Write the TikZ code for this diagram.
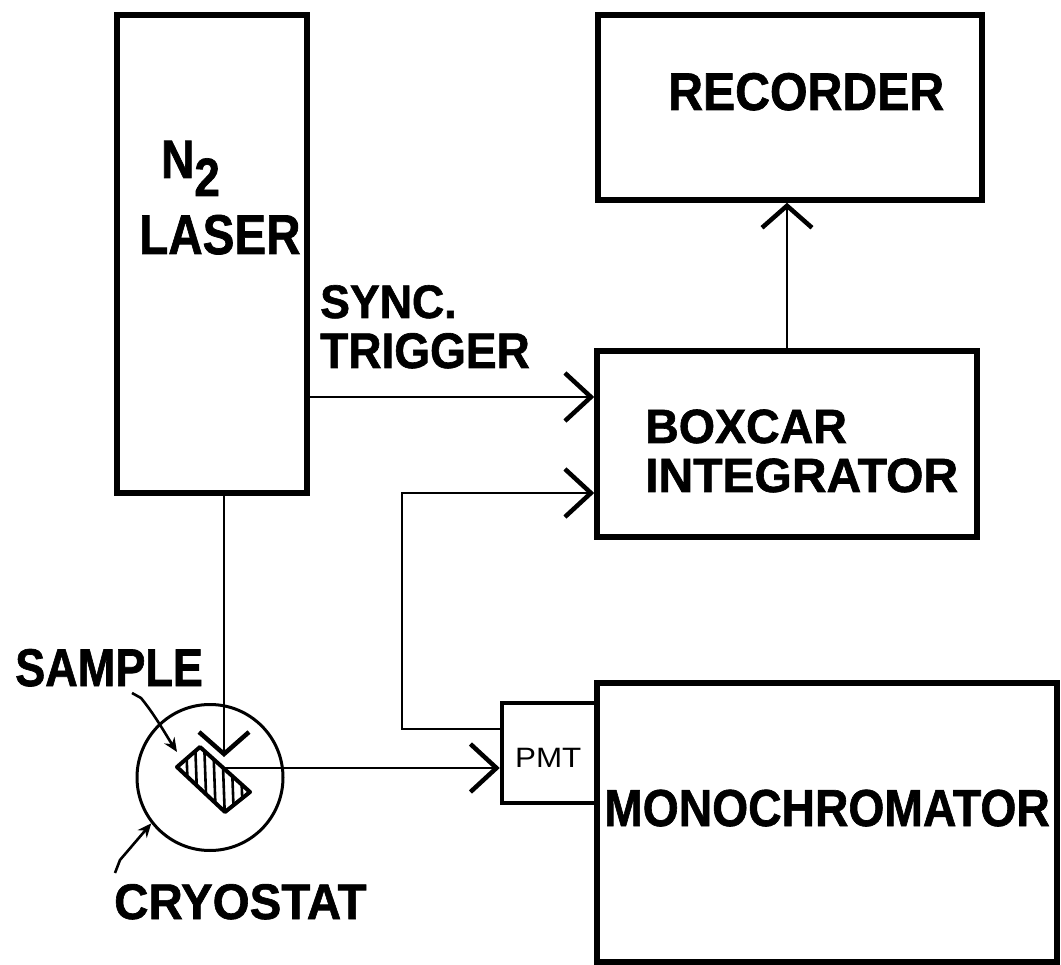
\documentclass[tikz,border=0pt]{standalone}
\usepackage{fontspec}
\setmainfont{Liberation Sans}
\newfontfamily\heavyfont{Liberation Sans}[BoldFeatures={FakeBold=1.3}]
\usetikzlibrary{arrows.meta,calc}
\newcommand{\mylbl}[3]{\scalebox{#1}[1]{\fontsize{#2}{#2}\selectfont\heavyfont\bfseries #3}}
\begin{document}
\begin{tikzpicture}[x=1pt,y=-1pt,
  box/.style={draw, line width=5.5pt, inner sep=0pt, rectangle},
  conn/.style={line width=2.2pt},
  arr/.style={conn, -{Straight Barb[length=26pt,width=48pt,line width=4.5pt]}},
  arrs/.style={conn, -{Straight Barb[length=22pt,width=50pt,line width=4.5pt]}},
  lead/.style={line width=2.6pt, -{Stealth[length=14pt,width=12pt]}},
  lbl/.style={inner sep=0pt, anchor=base west},
]
\useasboundingbox (0,0) rectangle (1061,965);
\fill[white] (0,0) rectangle (1061,965);

% boxes
\node[box, minimum width=190pt, minimum height=478pt] (laser) at (212,254) {};
\node[box, minimum width=384pt, minimum height=185pt] (recorder) at (790,107.5) {};
\node[box, minimum width=380pt, minimum height=186pt] (boxcar) at (787,444) {};
\node[box, minimum width=460pt, minimum height=279pt] (mono) at (827,822.5) {};
\node[box, line width=4.5pt, minimum width=95pt, minimum height=100pt] (pmt) at (549.5,753) {};
\node[draw, circle, line width=3pt, minimum size=146pt, inner sep=0pt] (cryo) at (210,777.5) {};

% texts
\node[lbl] (n2) at (161,178) {\mylbl{.85}{54}{N\raisebox{-18pt}{2}}};
\node[lbl] (lasertxt) at (139,254) {\mylbl{.85}{56}{LASER}};
\node[lbl] (synctxt) at (320,318) {\mylbl{.95}{47}{SYNC.}};
\node[lbl] (trigtxt) at (320,368) {\mylbl{.92}{50}{TRIGGER}};
\node[lbl] (rectxt) at (668,110) {\mylbl{.91}{53}{RECORDER}};
\node[lbl] (boxtxt) at (645,443) {\mylbl{.97}{48}{BOXCAR}};
\node[lbl] (inttxt) at (645,492) {\mylbl{1.0}{48}{INTEGRATOR}};
\node[lbl] (pmttxt) at (515,767) {\scalebox{1.12}[1]{\fontsize{28}{28}\selectfont PMT}};
\node[lbl] (monotxt) at (604,826) {\mylbl{.89}{52}{MONOCHROMATOR}};
\node[lbl] (samptxt) at (15,686) {\mylbl{.85}{53}{SAMPLE}};
\node[lbl] (cryotxt) at (114,919) {\mylbl{.95}{50}{CRYOSTAT}};

% sample
\coordinate (sL) at (177,767);
\coordinate (sT) at (200,747);
\coordinate (sR) at (250,792);
\coordinate (sB) at (225,812);
\begin{scope}
\clip (sL)--(sT)--(sR)--(sB)--cycle;
\fill[white] (170,740) rectangle (260,820);
\foreach \x in {186,195,...,246} \draw[line width=2.6pt] (\x,740) -- (\x+3,820);
\end{scope}
\draw[line width=4pt, line join=round] (sL)--(sT)--(sR)--(sB)--cycle;

% connectors
\coordinate (hit) at (224,768);
\coordinate (beamend) at (224,757);
\coordinate (sy) at (0,397);
\coordinate (fb) at (402,729);
\coordinate (b2) at (402,493);
\draw[arrs] (laser.south -| hit) -- (beamend);
\draw[arr] (hit) -- (pmt.west |- hit);
\draw[arr] (laser.east |- sy) -- (boxcar.west |- sy);
\draw[arr] (pmt.west |- fb) -- (fb) -- (b2) -- (boxcar.west |- b2);
\draw[arrs] (boxcar.north) -- (boxcar.north |- recorder.south);

% leaders
\coordinate (smpA) at (132,693);
\coordinate (smpB) at (141,698);
\coordinate (smpTip) at (177,752);
\draw[lead] (smpA) -- (smpB) .. controls (155,715) and (166,735) .. (smpTip);
\coordinate (cryA) at (115,873);
\coordinate (cryB) at (120,860);
\draw[lead] (cryA) -- (cryB) -- (cryo.218);
\end{tikzpicture}
\end{document}
